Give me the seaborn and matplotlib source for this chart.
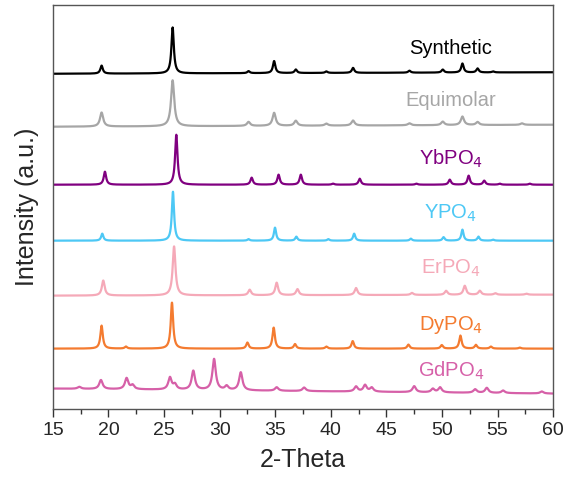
import numpy as np
import pandas as pd
import seaborn as sns
import matplotlib.pyplot as plt

# Peak positions (2-theta) and heights (a.u.)
samples = ["Synthetic", "Equimolar", "YbPO4", "YPO4", "ErPO4", "DyPO4", "GdPO4"]
labels = ["Synthetic", "Equimolar", r"YbPO$_4$", r"YPO$_4$", r"ErPO$_4$", r"DyPO$_4$", r"GdPO$_4$"]
colors = ["#000000", "#a6a6a6", "#800080", "#4dc8f5", "#f5a9b8", "#f47b30", "#d660a8"]

synthetic_pos = [19.38, 25.77, 32.6, 34.9, 36.85, 39.6, 42.0, 47.07, 50.07, 51.84, 53.2, 54.6]
synthetic_h = [8, 46, 2, 12, 3.5, 1.5, 5, 2, 3, 9, 4, 1]

equimolar_pos = [19.38, 25.77, 32.6, 34.9, 36.85, 39.6, 42.0, 47.07, 50.07, 51.84, 53.2, 57.2]
equimolar_h = [14, 46, 4, 13, 5, 2, 5, 2, 3.5, 8.5, 3, 1.5]

ybpo4_pos = [19.68, 26.1, 32.88, 35.3, 37.3, 40.2, 42.6, 47.7, 50.7, 52.4, 53.8, 55.2, 57.9]
ybpo4_h = [13, 50, 7, 10, 10, 1, 6, 1, 5, 9, 4, 1, 1]

ypo4_pos = [19.44, 25.8, 32.6, 34.98, 36.9, 39.78, 42.1, 47.2, 50.14, 51.84, 53.28, 54.6]
ypo4_h = [7, 49, 1.5, 13, 4, 1.5, 7, 2, 3.5, 11, 4, 1]

erpo4_pos = [19.53, 25.9, 32.7, 35.13, 37.0, 42.27, 47.3, 50.37, 52.05, 53.4, 54.8, 57.6]
erpo4_h = [15, 49, 5.5, 12.5, 6, 7, 2, 4, 9, 4, 1.5, 1]

dypo4_pos = [19.38, 21.57, 25.71, 32.5, 34.86, 36.78, 39.6, 41.97, 46.98, 49.98, 51.66, 53.05, 54.4, 57.0]
dypo4_h = [23, 2, 46, 6, 21, 4.5, 2, 7.5, 4, 3.5, 13, 3.7, 2, 1]

gdpo4_pos = [17.37, 19.32, 21.63, 22.17, 25.53, 25.98, 27.63, 29.5, 30.63, 31.9, 35.13, 37.6,
             42.27, 43.08, 43.68, 47.5, 49.18, 49.83, 52.98, 54.03, 55.5, 58.98]
gdpo4_h = [2, 9, 11, 4, 12, 5, 19, 31, 4, 18, 3.5, 3.5, 5, 6.5, 4, 6, 3.5, 5, 3.5, 5, 2.5, 2]

peak_pos = [synthetic_pos, equimolar_pos, ybpo4_pos, ypo4_pos, erpo4_pos, dypo4_pos, gdpo4_pos]
peak_h = [synthetic_h, equimolar_h, ybpo4_h, ypo4_h, erpo4_h, dypo4_h, gdpo4_h]

# stacking offsets, peak half widths and background tilt
offsets = [335, 282, 224, 168, 113, 60, 20]
widths = [0.13, 0.17, 0.13, 0.12, 0.15, 0.13, 0.18]
tilt = [1.5, 2, 0, 0, 1, 0, -5]
label_y = [360, 308, 250, 195, 140, 84, 38]

theta = np.linspace(15, 60, 4500)
frames = []
for name, pos, h, off, w, t in zip(samples, peak_pos, peak_h, offsets, widths, tilt):
    y = np.full_like(theta, off, dtype=float) + t * (theta - 15) / 45
    for p, a in zip(pos, h):
        y += a / (1 + ((theta - p) / w) ** 2)
    frames.append(pd.DataFrame({"theta": theta, "intensity": y, "sample": name}))
df = pd.concat(frames, ignore_index=True)

sns.set_style("ticks")
plt.rcParams["font.family"] = ["Liberation Sans", "DejaVu Sans"]

fig = plt.figure(figsize=(5.75, 4.79), dpi=100)
ax = fig.add_axes([0.092, 0.147, 0.87, 0.843])

sns.lineplot(data=df, x="theta", y="intensity", hue="sample", hue_order=samples,
             palette=colors, estimator=None, legend=False, linewidth=1.6, ax=ax)

for lab, c, ly in zip(labels, colors, label_y):
    ax.text(50.8, ly, lab, color=c, fontsize=14.5, ha="center", va="center")

ax.set_xlim(15, 60)
ax.set_ylim(0, 404)
ax.set_xticks(np.arange(15, 61, 5))
ax.set_xticks(np.arange(17.5, 60, 5), minor=True)
ax.set_yticks([])
ax.tick_params(axis="x", labelsize=14, length=6, width=1, direction="out", color="#333333", pad=4)
ax.tick_params(axis="x", which="minor", length=3.5, width=1, color="#333333")
for s in ax.spines.values():
    s.set_visible(True)
    s.set_color("#555555")
    s.set_linewidth(1)
ax.set_xlabel("2-Theta", fontsize=18, labelpad=6)
ax.set_ylabel("Intensity (a.u.)", fontsize=18, labelpad=10)

fig.savefig("out.png", dpi=100)
